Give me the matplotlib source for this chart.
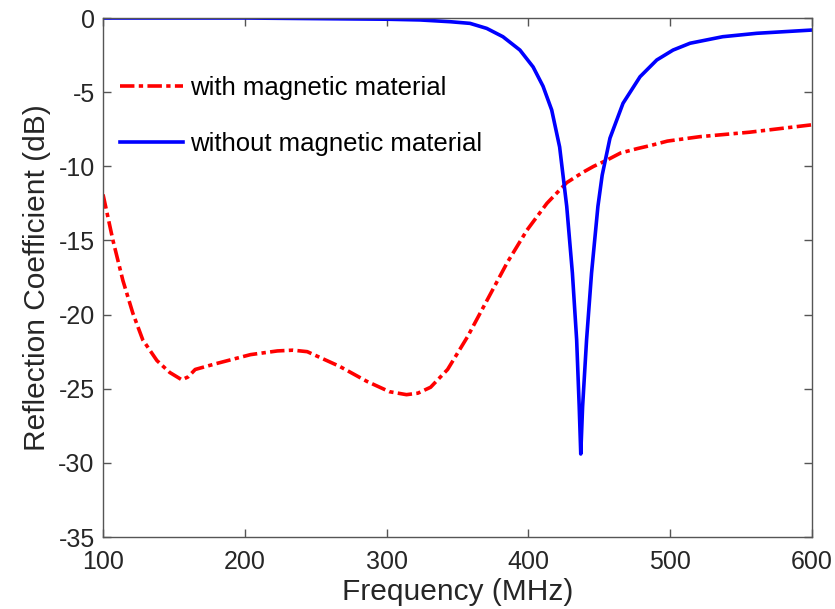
import matplotlib.pyplot as plt

plt.rcParams['axes.unicode_minus'] = False

# with magnetic material (red, dash-dot)
freq_mag = [100, 107, 114, 121, 128, 138, 147, 155.6, 160, 165, 180, 204, 223,
            234, 244, 267, 286, 302, 314, 322, 331, 343, 357, 371, 385, 399,
            413, 427, 438.5, 446, 455, 465, 477, 486, 498, 521, 556, 600]
refl_mag = [-11.9, -15.0, -17.7, -19.9, -21.7, -23.1, -23.9, -24.4, -24.2,
            -23.7, -23.3, -22.7, -22.45, -22.4, -22.5, -23.5, -24.5, -25.2,
            -25.4, -25.3, -24.9, -23.7, -21.5, -19.0, -16.5, -14.3, -12.5,
            -11.1, -10.4, -10.0, -9.6, -9.1, -8.8, -8.6, -8.3, -8.0, -7.7, -7.2]

# without magnetic material (blue, solid)
freq_nomag = [100, 200, 300, 323.6, 345, 358.8, 370.6, 382, 394, 403.3, 410.3,
              416.4, 422, 427, 431, 434, 435.8, 436.9, 438.2, 441, 444.5, 449,
              452, 457.5, 466.7, 478.7, 490.5, 502, 514, 537, 561, 600]
refl_nomag = [0.0, 0.0, -0.08, -0.13, -0.25, -0.36, -0.7, -1.26, -2.16, -3.3,
              -4.6, -6.2, -8.7, -12.7, -17.2, -21.7, -26.2, -29.4, -26.2, -21.7,
              -17.2, -12.7, -10.6, -8.1, -5.75, -3.96, -2.83, -2.16, -1.7, -1.26,
              -1.03, -0.81]

xticks = [100, 200, 300, 400, 500, 600]
yticks = [-35, -30, -25, -20, -15, -10, -5, 0]

fig = plt.figure(figsize=(8.35, 6.09), dpi=100)
ax = fig.add_axes([0.1234, 0.1182, 0.8491, 0.8522])

ax.plot(freq_mag, refl_mag, color='red', lw=2.6, dashes=(4, 1.2, 1.2, 1.2),
        label='with magnetic material')
ax.plot(freq_nomag, refl_nomag, color='blue', lw=2.6,
        label='without magnetic material')

ax.set_xlim(100, 600)
ax.set_ylim(-35, 0)
ax.set_xticks(xticks)
ax.set_yticks(yticks)
ax.tick_params(direction='in', length=6, width=1, color='#555555',
               top=True, right=True, labelsize=18, pad=6)
ax.tick_params(axis='x', pad=9)
for lab in ax.get_xticklabels() + ax.get_yticklabels():
    lab.set_family('Liberation Sans')
    lab.set_color('#262626')
for sp in ax.spines.values():
    sp.set_color('#555555')
    sp.set_linewidth(1)

ax.set_xlabel('Frequency (MHz)', fontsize=21.5, family='Liberation Sans',
              color='#262626', labelpad=3)
ax.set_ylabel('Reflection Coefficient (dB)', fontsize=21.5,
              family='Liberation Sans', color='#262626', labelpad=5)

leg = ax.legend(loc='center left', bbox_to_anchor=(0.0, 0.811), frameon=False,
                prop={'family': 'Liberation Sans', 'size': 18.5},
                handlelength=2.45, handletextpad=0.27, labelspacing=1.25,
                borderaxespad=0.26)

fig.savefig('out.png', dpi=100)
